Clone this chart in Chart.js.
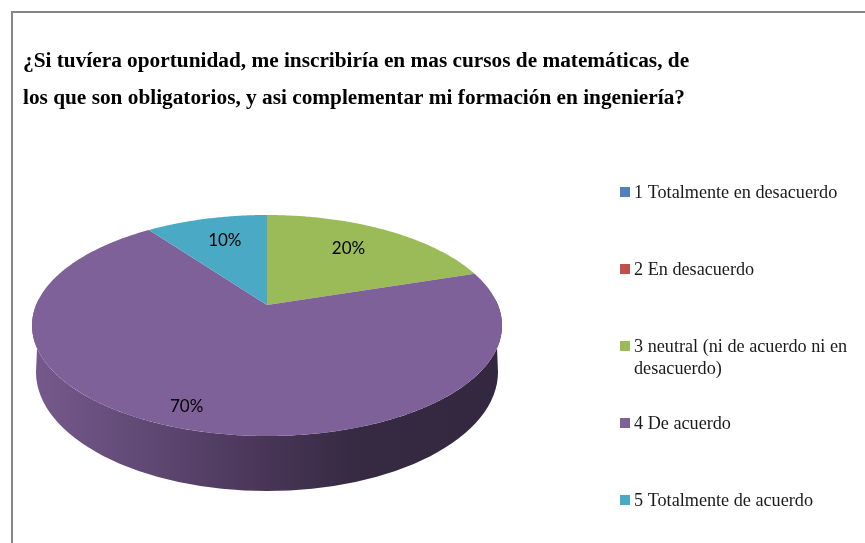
<!DOCTYPE html>
<html>
<head>
<meta charset="utf-8">
<title>Pie</title>
<script src="https://cdn.jsdelivr.net/npm/chart.js@4"></script>
<style>
  html, body { margin: 0; padding: 0; background: #fff; overflow: hidden; }
  #frame { position: absolute; left: 11px; top: 11px; right: 0; bottom: 0; border-left: 2px solid #868686; border-top: 2px solid #868686; }
  canvas { position: absolute; left: 0; top: 0; }
</style>
</head>
<body>
<div id="frame"></div>
<canvas id="pie" width="865" height="543"></canvas>
<script>
const titleLines = [
  '¿Si tuvíera oportunidad, me inscribiría en mas cursos de matemáticas, de',
  'los que son obligatorios, y asi complementar mi formación en ingeniería?'
];
const categories = [
  '1 Totalmente en desacuerdo',
  '2 En desacuerdo',
  '3 neutral (ni de acuerdo ni en desacuerdo)',
  '4 De acuerdo',
  '5 Totalmente de acuerdo'
];
const legendLines = [
  ['1 Totalmente en desacuerdo'],
  ['2 En desacuerdo'],
  ['3 neutral (ni de acuerdo ni en', 'desacuerdo)'],
  ['4 De acuerdo'],
  ['5 Totalmente de acuerdo']
];
const values = [0, 0, 20, 70, 10];
const colors = ['#4f81bd', '#c0504d', '#9bbb59', '#7f6199', '#4aa9c4'];

// perspective of the tilted disc: the centre of the pie sits above the centre of the ellipse
const view = { cx: 267, apexY: 305, a: 230.9, b: 106.7, k: 0.1855 };
// lower rim of the wall
const rim = { cx: 267, cy: 372, rx: 231, ry: 119 };

function project(angle, r) {
  const u = Math.cos(angle) * r, v = Math.sin(angle) * r;
  const w = 1 - view.k * v;
  return { x: view.cx + view.a * u / w, y: view.apexY + view.b * v / w };
}

function drawWall(ctx, elements) {
  // only the slice facing the viewer shows its side
  const front = elements.find(el => el.startAngle <= Math.PI / 2 && el.endAngle >= Math.PI / 2);
  if (!front) return;
  const g = ctx.createLinearGradient(36, 0, 498, 0);
  g.addColorStop(0, '#75598c');
  g.addColorStop(0.25, '#5f4873');
  g.addColorStop(0.5, '#483556');
  g.addColorStop(0.7, '#352a42');
  g.addColorStop(1, '#332840');
  ctx.fillStyle = g;
  ctx.beginPath();
  // along the front of the top face, left to right
  for (let a = Math.PI * 1.02; a >= -0.02 * Math.PI; a -= 0.01) {
    const p = project(a, 1);
    if (a === Math.PI * 1.02) ctx.moveTo(p.x, p.y); else ctx.lineTo(p.x, p.y);
  }
  // back along the bottom rim
  ctx.ellipse(rim.cx, rim.cy, rim.rx, rim.ry, 0, 0, Math.PI);
  ctx.closePath();
  ctx.fill();
}

function drawSlice(ctx, el, color) {
  if (el.endAngle - el.startAngle <= 0) return;
  const apex = project(0, 0);
  ctx.fillStyle = color;
  ctx.beginPath();
  ctx.moveTo(apex.x, apex.y);
  for (let a = el.startAngle; a < el.endAngle; a += 0.01) {
    const p = project(a, 1);
    ctx.lineTo(p.x, p.y);
  }
  const last = project(el.endAngle, 1);
  ctx.lineTo(last.x, last.y);
  ctx.closePath();
  ctx.fill();
}

const tiltedPie = {
  id: 'tiltedPie',
  beforeDatasetDraw(chart, args) {
    const ctx = chart.ctx;
    const elements = args.meta.data.map(el => el.getProps(['startAngle', 'endAngle']));
    ctx.save();
    drawWall(ctx, elements);
    elements.forEach((el, i) => drawSlice(ctx, el, colors[i]));
    ctx.restore();
    return false;
  },
  afterDatasetsDraw(chart) {
    const ctx = chart.ctx;
    const total = values.reduce((s, v) => s + v, 0);
    // label placement of each visible slice: radius and lift
    const place = { 2: [0.66, -5], 3: [0.94, -13], 4: [0.66, -4] };
    ctx.save();
    ctx.font = '17px Lato';
    ctx.fillStyle = '#000';
    ctx.textAlign = 'center';
    ctx.textBaseline = 'middle';
    chart.getDatasetMeta(0).data.forEach((el, i) => {
      if (!values[i]) return;
      const props = el.getProps(['startAngle', 'endAngle']);
      const p = project((props.startAngle + props.endAngle) / 2, place[i][0]);
      ctx.fillText(Math.round(values[i] / total * 100) + '%', p.x, p.y + place[i][1]);
    });
    ctx.restore();
  },
  afterDraw(chart) {
    // legend: every entry on a fixed step, even the one that wraps
    const ctx = chart.ctx;
    ctx.save();
    ctx.font = '18.2px "Liberation Serif"';
    ctx.textBaseline = 'middle';
    legendLines.forEach((lines, i) => {
      const y = 192 + i * 77;
      ctx.fillStyle = colors[i];
      ctx.fillRect(620, y - 5, 10, 10);
      ctx.fillStyle = '#1a1a1a';
      lines.forEach((line, j) => ctx.fillText(line, 634, y + 1 + j * 22));
    });
    ctx.restore();
  }
};

new Chart(document.getElementById('pie'), {
  type: 'pie',
  data: {
    labels: categories,
    datasets: [{ data: values, backgroundColor: colors, borderWidth: 0 }]
  },
  options: {
    responsive: false,
    animation: false,
    layout: { padding: { left: 23, bottom: 107 } },
    plugins: {
      legend: { display: false },
      tooltip: { enabled: false },
      title: {
        display: true,
        text: titleLines,
        align: 'start',
        color: '#000',
        font: { family: '"Liberation Serif"', size: 21.3, weight: 'bold', lineHeight: 1.74 },
        padding: { top: 43, bottom: 10 }
      }
    }
  },
  plugins: [tiltedPie]
});
</script>
</body>
</html>
